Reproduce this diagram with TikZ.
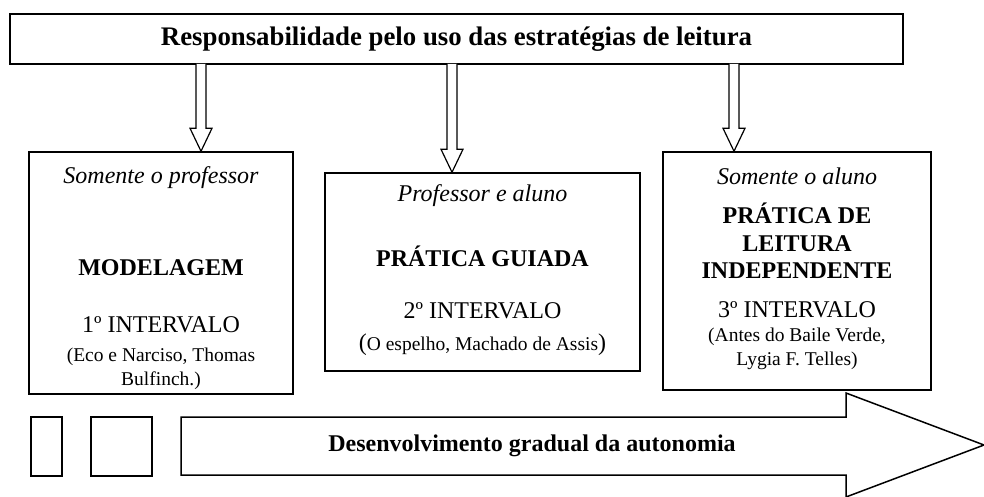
\documentclass[tikz,border=0pt]{standalone}
\usepackage{fontspec}
\setmainfont{Liberation Serif}
\usetikzlibrary{calc,fit}

\tikzset{
  box/.style={draw, line width=0.75pt, fill=white, inner sep=0pt},
  hollow/.style={draw, line width=0.6pt, fill=white},
  ital/.style={font=\fontsize{12}{14}\selectfont\itshape, inner sep=0pt},
  bold/.style={font=\fontsize{12}{13.75}\selectfont\bfseries, align=center, inner sep=0pt},
  plain/.style={font=\fontsize{12}{14}\selectfont, inner sep=0pt},
  small/.style={font=\fontsize{9.75}{12}\selectfont, align=center, inner sep=0pt}
}

\begin{document}
\begin{tikzpicture}[x=0.5pt,y=0.5pt]
            \useasboundingbox (0,0) rectangle (984,-497);
            % bottom arrow
            \draw [line width=0.75pt] (181,-417) -- (846,-417) -- (846,-393) -- (984,-445) -- (846,-497) -- (846,-475) -- (181,-475) -- cycle;
            \node [bold] (auto) at (532,-446) {Desenvolvimento gradual da autonomia};
            \node [box, fit={(31,-417) (62,-476)}] (sq1) {};
            \node [box, fit={(91,-417) (152,-476)}] (sq2) {};
            % top box
            \node [box, line width=0.9pt, fit={(10,-14) (903,-64)}] (top) {};
            \node [bold, font=\fontsize{13.4}{15}\selectfont\bfseries] (title) at (top.center) {Responsabilidade pelo uso das estratégias de leitura};
            % the three intervals
            \node [box, fit={(29,-152) (293,-394)}] (box1) {};
            \node [box, fit={(325,-173) (640,-371)}] (box2) {};
            \node [box, fit={(663,-152) (931,-390)}] (box3) {};
            \node [ital] (who1) at (161,-178) {Somente o professor};
            \node [bold] (name1) at (161,-268) {MODELAGEM};
            \node [plain] (int1) at (161,-325) {1º INTERVALO};
            \node [small] (ref1) at (161,-369) {(Eco e Narciso, Thomas\\Bulfinch.)};
            \node [ital] (who2) at (482.5,-196) {Professor e aluno};
            \node [bold] (name2) at (482.5,-256) {PRÁTICA GUIADA};
            \node [plain] (int2) at (482.5,-311) {2º INTERVALO};
            \node [small] (ref2) at (482.5,-345) {{\fontsize{12}{14}\selectfont(}O espelho, Machado de Assis{\fontsize{12}{14}\selectfont)}};
            \node [ital] (who3) at (797,-176) {Somente o aluno};
            \node [bold] (name3) at (797,-241) {PRÁTICA DE\\LEITURA\\INDEPENDENTE};
            \node [plain] (int3) at (797,-310) {3º INTERVALO};
            \node [small] (ref3) at (797,-349) {(Antes do Baile Verde,\\Lygia F. Telles)};
            % hollow arrows
            \coordinate (s1) at (201,-64);
            \coordinate (s2) at (452,-64);
            \coordinate (s3) at (734,-64);
            \foreach \s/\b in {s1/box1, s2/box2, s3/box3}
              \draw [hollow] ($(\s)+(-5,0)$) -- ($(\s |- \b.north)+(-5,23)$) -- ++(-6,0) -- (\s |- \b.north) -- ++(11,23) -- ++(-6,0) -- ($(\s)+(5,0)$);
\end{tikzpicture}
\end{document}
